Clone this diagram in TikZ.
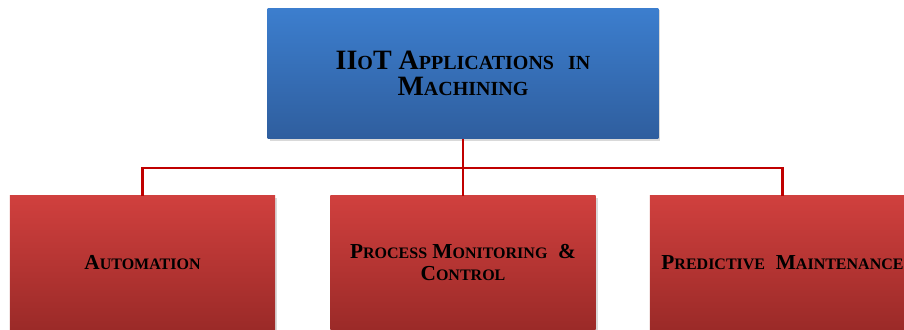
\documentclass[tikz,border=0pt]{standalone}
\usepackage{fontspec}
\setmainfont{Liberation Serif}
\usetikzlibrary{shadows}

\definecolor{topblue}{RGB}{60,126,206}
\definecolor{botblue}{RGB}{47,94,158}
\definecolor{topred}{RGB}{208,64,62}
\definecolor{botred}{RGB}{155,42,40}
\definecolor{linered}{RGB}{192,0,0}

% fake small caps, as in the original
\newcommand{\tsc}[2]{{\fontsize{21}{20}\selectfont #1}{\fontsize{15}{20}\selectfont #2}}
\newcommand{\bsc}[2]{{\fontsize{16}{17}\selectfont #1}{\fontsize{12}{17}\selectfont #2}}

\tikzset{
  headbox/.style={rectangle, minimum width=293pt, minimum height=98pt,
    top color=topblue, bottom color=botblue, align=center,
    font=\bfseries\fontsize{21}{20}\selectfont,
    drop shadow={opacity=0.3, shadow xshift=1.5pt, shadow yshift=-1.5pt}},
  areabox/.style={rectangle, minimum width=199pt, minimum height=100pt,
    top color=topred, bottom color=botred, align=center,
    font=\bfseries\fontsize{16}{17}\selectfont,
    drop shadow={opacity=0.3, shadow xshift=1.5pt, shadow yshift=-1.5pt}},
  link/.style={linered, line width=2.2pt}
}

\begin{document}
\begin{tikzpicture}[x=0.75pt, y=-0.75pt]
    \useasboundingbox (0,0) rectangle (904,329);
    \clip (0,0) rectangle (904,329);

    % Top box
    \node[headbox] (iiot) at (463,73.5)
      {\tsc{II}{O}\tsc{T}{} \tsc{A}{PPLICATIONS} \ \tsc{}{IN}\\ \tsc{M}{ACHINING}};

    % Application areas
    \node[areabox] (auto) at (142.5,262.5) {\bsc{A}{UTOMATION}};
    \node[areabox] (pmc) at (463,262.5)
      {\bsc{P}{ROCESS} \bsc{M}{ONITORING} \ \bsc{\&}{}\\ \bsc{C}{ONTROL}};
    \node[areabox] (pm) at (782.5,262.5)
      {\bsc{P}{REDICTIVE} \ \bsc{M}{AINTENANCE}};

    % Connectors
    \coordinate (split) at (463,168);
    \draw[link] (iiot.south) -- (split);
    \draw[link] (split) -| (auto.north);
    \draw[link] (split) -- (pmc.north);
    \draw[link] (split) -| (pm.north);
  \end{tikzpicture}
\end{document}
